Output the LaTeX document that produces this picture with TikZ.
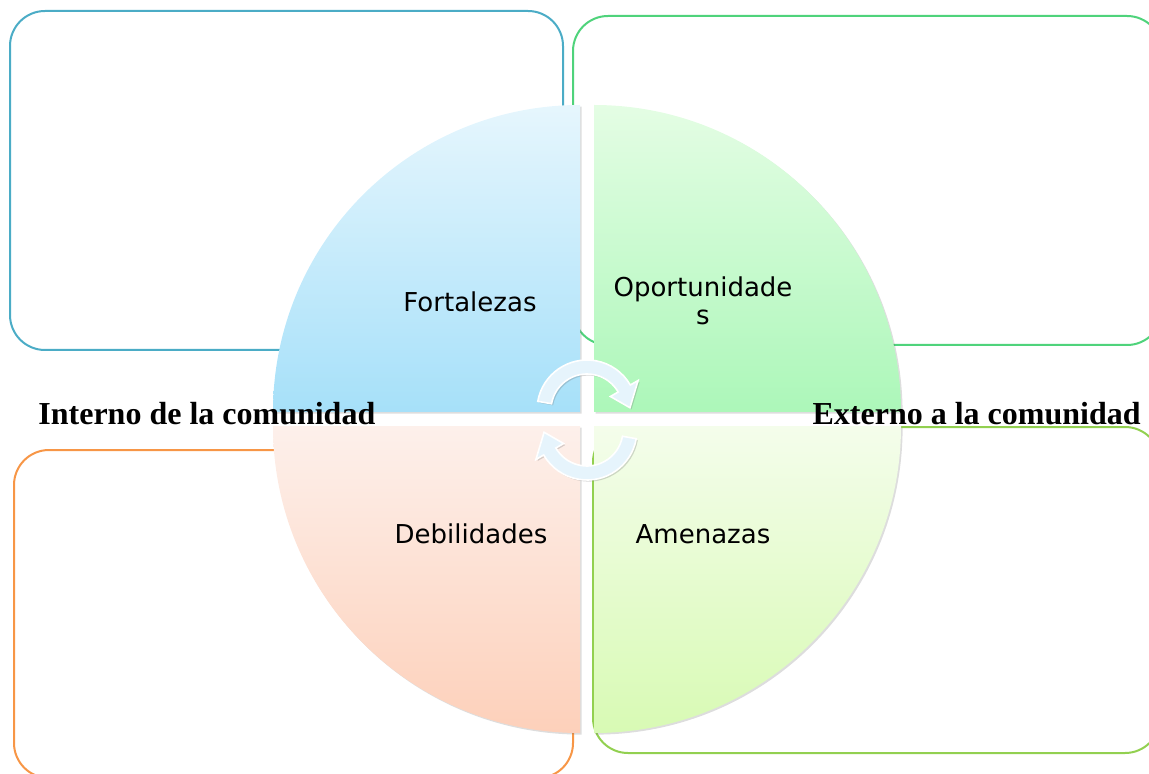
\documentclass[tikz,border=0pt]{standalone}
\usepackage{fontspec}
\setmainfont{Liberation Serif}
\newfontfamily\quadfont{DejaVu Sans}
\usetikzlibrary{shadows}

\definecolor{boxBlue}{HTML}{4BACC6}
\definecolor{boxGreen}{HTML}{4FD37B}
\definecolor{boxOrange}{HTML}{F79646}
\definecolor{boxLime}{HTML}{92D050}
\definecolor{arrowFill}{HTML}{E6F4FC}
\definecolor{fortTop}{HTML}{E6F6FD}
\definecolor{fortBot}{HTML}{A6E0F9}
\definecolor{oporTop}{HTML}{E4FDE4}
\definecolor{oporBot}{HTML}{ACF7B9}
\definecolor{debiTop}{HTML}{FDF0EB}
\definecolor{debiBot}{HTML}{FDD0BA}
\definecolor{amenTop}{HTML}{F4FDEB}
\definecolor{amenBot}{HTML}{D8FAB4}

\begin{document}
\begin{tikzpicture}[>=latex, x=0.5pt, y=-0.5pt]
        \def\rad{307}
        \tikzset{
            swotbox/.style={line width=1pt, rounded corners=17.5pt},
            quarter/.style={drop shadow={shadow xshift=0.8pt, shadow yshift=-0.8pt, opacity=0.22, fill=black!60}},
            quadlabel/.style={font=\quadfont\fontsize{13}{14}\selectfont, align=center, inner sep=0pt},
            sidelabel/.style={font=\fontsize{16}{18}\selectfont\bfseries, inner sep=0pt},
            cyclearrow/.style={fill=arrowFill, draw=white, line width=0.8pt,
                drop shadow={shadow xshift=0.8pt, shadow yshift=-0.8pt, opacity=0.25, fill=black!60}}
        }
        \useasboundingbox (0,0) rectangle (1149,774);
        \clip (0,0) rectangle (1149,774);

        % the four boxes behind the circle
        \draw[swotbox, boxBlue] (10,11) rectangle (563,350);
        \draw[swotbox, boxGreen] (573,16) rectangle (1162,345);
        \draw[swotbox, boxOrange] (14,450) rectangle (573,778);
        \draw[swotbox, boxLime] (593,427) rectangle (1160,753);

        \coordinate (cF) at (580,412);
        \coordinate (cO) at (594,412);
        \coordinate (cD) at (580,426);
        \coordinate (cA) at (594,426);

        \path[quarter, top color=fortTop, bottom color=fortBot] (cF) -- ++(-\rad,0) arc[start angle=180, end angle=270, radius=\rad] -- cycle;
        \path[quarter, top color=oporTop, bottom color=oporBot] (cO) -- ++(0,-\rad) arc[start angle=270, end angle=360, radius=\rad] -- cycle;
        \path[quarter, top color=debiTop, bottom color=debiBot] (cD) -- ++(-\rad,0) arc[start angle=180, end angle=90, radius=\rad] -- cycle;
        \path[quarter, top color=amenTop, bottom color=amenBot] (cA) -- ++(\rad,0) arc[start angle=0, end angle=90, radius=\rad] -- cycle;

        % turning arrows in the middle
        \begin{scope}[shift={(587,410)}]
            \path[cyclearrow] (190:50) arc[start angle=190, end angle=330, radius=50] -- (330:59) -- (357:43) -- (330:27) -- (330:36) arc[start angle=330, end angle=190, radius=36] -- cycle;
        \end{scope}
        \begin{scope}[shift={(587,430)}]
            \path[cyclearrow] (10:50) arc[start angle=10, end angle=150, radius=50] -- (150:59) -- (177:43) -- (150:27) -- (150:36) arc[start angle=150, end angle=10, radius=36] -- cycle;
        \end{scope}

        \node[quadlabel, anchor=base] (fort) at (470,312) {Fortalezas};
        \node[quadlabel] (opor) at (703,301) {Oportunidade\\s};
        \node[quadlabel, anchor=base] (debi) at (471,543) {Debilidades};
        \node[quadlabel, anchor=base] (amen) at (703,543) {Amenazas};

        \node[sidelabel, anchor=base west] (interno) at (38,424) {Interno de la comunidad};
        \node[sidelabel, anchor=base east] (externo) at (1141,424) {Externo a la comunidad};
    \end{tikzpicture}
\end{document}
